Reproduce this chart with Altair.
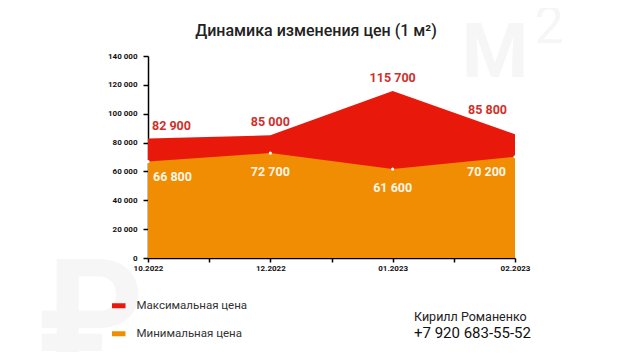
import altair as alt
import pandas as pd

months = ["10.2022", "12.2022", "01.2023", "02.2023"]
max_price = [82900, 85000, 115700, 85800]
min_price = [66800, 72700, 61600, 70200]
series_names = ["Максимальная цена", "Минимальная цена"]
y_ticks = [0, 20000, 40000, 60000, 80000, 100000, 120000, 140000]
x_ticks = [0, 0.5, 1, 1.5, 2, 2.5, 3]

RED = "#e8190b"
ORANGE = "#f18d02"
FONT = "Roboto"

rows = []
for i, m in enumerate(months):
    rows.append({"idx": i, "month": m, "series": series_names[0], "value": max_price[i]})
    rows.append({"idx": i, "month": m, "series": series_names[1], "value": min_price[i]})
df = pd.DataFrame(rows)
n = len(months)

label_js = "[" + ",".join("'" + m + "'" for m in months) + "]"
fmt = "replace(format(datum.value, ','), regexp(',', 'g'), ' ')"

x_scale = alt.Scale(domain=[0, n - 1], nice=False, zero=False)
y_scale = alt.Scale(domain=[0, 140000], nice=False)

x_axis = alt.Axis(
    values=x_ticks, tickCount=7,
    labelExpr="datum.value % 1 == 0 ? " + label_js + "[datum.value] : ''",
    title=None, grid=False, domainColor="black", domainWidth=1.5,
    tickColor="black", tickSize=4, tickWidth=1.5, labelFont=FONT,
    labelFontWeight="bold", labelFontSize=8, labelColor="#111",
    labelPadding=2, labelFlush=False, labelOverlap=False,
)
y_axis = alt.Axis(
    values=y_ticks, tickCount=8, labelExpr=fmt, title=None, grid=False,
    domainColor="black", domainWidth=1.5, tickColor="black", tickSize=5,
    tickWidth=1.5, labelFont=FONT, labelFontWeight="bold", labelFontSize=8,
    labelColor="#111", labelPadding=6, labelOverlap=False,
)
x_enc = alt.X("idx:Q", scale=x_scale, axis=x_axis)
y_enc = alt.Y("value:Q", scale=y_scale, axis=y_axis)

color_enc = alt.Color(
    "series:N",
    scale=alt.Scale(domain=series_names, range=[RED, ORANGE]),
    legend=alt.Legend(
        title=None, orient="none", legendX=-35, legendY=244, direction="vertical",
        symbolType="M-1.35,-0.5H1.35V0.5H-1.35Z", symbolSize=100,
        symbolStrokeWidth=0, symbolOpacity=1, rowPadding=15, labelOffset=12,
        labelFont=FONT, labelFontSize=11.5, labelColor="#333",
    ),
)

base = alt.Chart(df)

# decorative watermarks and free text
deco = pd.DataFrame({"k": [0]})
def txt(text, x, y, size, color, weight="normal", align="left"):
    return alt.Chart(deco).mark_text(
        text=text, font=FONT, fontSize=size, color=color, fontWeight=weight,
        align=align, baseline="alphabetic",
    ).encode(x=alt.value(x), y=alt.value(y))

WM = "#f6f6f6"
wm_m = txt("М", 347, 21, 76, WM, "bold", "center")
wm_2 = txt("2", 401, -13, 52, WM, "normal", "center")
wm_r = txt("₽", -57, 310, 150, WM, "bold", "center")

area_max = base.transform_filter(alt.datum.series == series_names[0]).mark_area(
    opacity=1, interpolate="linear"
).encode(x=x_enc, y=y_enc, color=color_enc)
area_min = base.transform_filter(alt.datum.series == series_names[1]).mark_area(
    opacity=1, interpolate="linear"
).encode(x=x_enc, y=y_enc, color=color_enc)

dots = base.transform_filter(alt.datum.series == series_names[1]).mark_circle(
    color="white", size=10, opacity=1
).encode(x=x_enc, y=y_enc)

lab = base.transform_calculate(label=fmt)

def labels(series, cond, align, dx, dy, color):
    return lab.transform_filter(alt.datum.series == series).transform_filter(cond).mark_text(
        align=align, dx=dx, dy=dy, font=FONT, fontSize=12.5, fontWeight="bold",
        color=color, baseline="middle",
    ).encode(x=x_enc, y=y_enc, text="label:N")

RLAB = "#d0302a"
WLAB = "#fff6e8"
last = n - 1
texts = [
    labels(series_names[0], alt.datum.idx == 0, "left", 4, -12, RLAB),
    labels(series_names[0], (alt.datum.idx > 0) & (alt.datum.idx < last), "center", 0, -13, RLAB),
    labels(series_names[0], alt.datum.idx == last, "right", -8, -24, RLAB),
    labels(series_names[1], alt.datum.idx == 0, "left", 5, 15, WLAB),
    labels(series_names[1], (alt.datum.idx > 0) & (alt.datum.idx < last), "center", 0, 19, WLAB),
    labels(series_names[1], alt.datum.idx == last, "right", -9, 15, WLAB),
]

title = txt("Динамика изменения цен (1 м²)", 168, -20, 16, "#222", 500, "center")
name = txt("Кирилл Романенко", 266, 265, 12.5, "#222")
phone = txt("+7 920 683-55-52", 266, 282, 15, "#111")

chart = alt.layer(
    wm_m, wm_2, wm_r, area_max, area_min, dots, *texts, title, name, phone
).properties(
    width=367, height=202,
    autosize=alt.AutoSizeParams(type="none"),
    padding={"left": 140, "top": 48, "right": 117, "bottom": 94},
    background="white",
).configure_view(stroke=None)

chart.save("out.html", embed_options={"renderer": "svg", "actions": False})
